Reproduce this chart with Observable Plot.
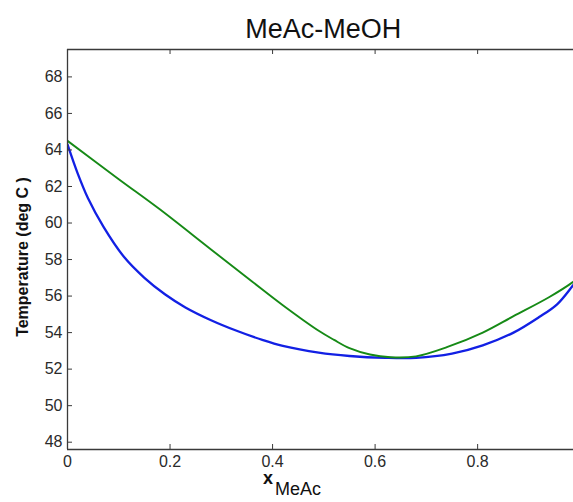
<!DOCTYPE html>
<html>
<head>
<meta charset="utf-8">
<script src="https://cdn.jsdelivr.net/npm/d3@7"></script>
<script src="https://cdn.jsdelivr.net/npm/@observablehq/plot@0.6"></script>
<style>
  html, body { margin: 0; padding: 0; background: #fff; overflow: hidden; }
</style>
</head>
<body>
<div id="chart"></div>
<script>
// ---- data ----
const titleText = "MeAc-MeOH";
const yLabelText = "Temperature (deg C )";
const xLabelMain = "x";
const xLabelSub = "MeAc";

// bubble-point (liquid) curve, blue
const liqX = [0, 0.02, 0.04, 0.07, 0.11, 0.15, 0.19, 0.23, 0.28, 0.33, 0.38, 0.42, 0.49, 0.55, 0.62, 0.68, 0.75, 0.81, 0.87, 0.92, 0.955, 0.985, 1.0];
const liqT = [64.3, 62.7, 61.35, 59.8, 58.15, 57.0, 56.1, 55.38, 54.68, 54.1, 53.6, 53.27, 52.9, 52.72, 52.62, 52.62, 52.85, 53.3, 54.0, 54.85, 55.55, 56.55, 57.1];

// dew-point (vapour) curve, green
const vapX = [0, 0.1, 0.18, 0.28, 0.36, 0.42, 0.49, 0.52, 0.55, 0.59, 0.63, 0.68, 0.74, 0.81, 0.87, 0.94, 0.985, 1.0];
const vapT = [64.5, 62.4, 60.75, 58.55, 56.8, 55.5, 54.1, 53.6, 53.15, 52.8, 52.65, 52.7, 53.2, 54.0, 54.9, 55.95, 56.75, 57.1];

const xTicks = [0, 0.2, 0.4, 0.6, 0.8];
const xTickLabels = ["0", "0.2", "0.4", "0.6", "0.8"];
const yTicks = [48, 50, 52, 54, 56, 58, 60, 62, 64, 66, 68];
const yTickLabels = ["48", "50", "52", "54", "56", "58", "60", "62", "64", "66", "68"];

const xDomain = [0, 0.987];
const yDomain = [47.6, 69.5];

// ---- build tables ----
const liq = liqX.map((x, i) => ({x, T: liqT[i]}));
const vap = vapX.map((x, i) => ({x, T: vapT[i]}));

const axisColor = "#3a3a3a";
const textColor = "#2a2a2a";
const font = "'Liberation Sans', Arial, Helvetica, sans-serif";

const W = 573, H = 502, mT = 49, mB = 53, mL = 67, mR = 0;
const frameH = H - mT - mB, frameW = W - mL - mR, tick = 5;

const chart = Plot.plot({
  width: W,
  height: H,
  marginTop: mT,
  marginBottom: mB,
  marginLeft: mL,
  marginRight: mR,
  style: {fontFamily: font, fontSize: "16px", color: textColor, background: "#fff", overflow: "hidden"},
  x: {domain: xDomain},
  y: {domain: yDomain},
  marks: [
    Plot.line(liq, {x: "x", y: "T", stroke: "#1220e4", strokeWidth: 2.3, curve: "catmull-rom", clip: true}),
    Plot.line(vap, {x: "x", y: "T", stroke: "#168a16", strokeWidth: 1.9, curve: "catmull-rom", clip: true}),
    Plot.ruleY([yDomain[0]], {stroke: axisColor, strokeWidth: 1.3}),
    Plot.ruleY([yDomain[1]], {stroke: axisColor, strokeWidth: 1.3}),
    Plot.ruleX([xDomain[0]], {stroke: axisColor, strokeWidth: 1.3}),
    // inward tick marks
    Plot.tickX(xTicks, {x: d => d, stroke: axisColor, insetTop: frameH - tick}),
    Plot.tickX(xTicks, {x: d => d, stroke: axisColor, insetBottom: frameH - tick}),
    Plot.tickY(yTicks, {y: d => d, stroke: axisColor, insetRight: frameW - tick}),
    // tick labels
    Plot.axisX(xTicks, {anchor: "bottom", tickSize: 0, tickPadding: 6, label: null,
      stroke: null, fill: textColor,
      tickFormat: (d) => xTickLabels[xTicks.indexOf(d)]}),
    Plot.axisY(yTicks, {anchor: "left", tickSize: 0, tickPadding: 5, label: null,
      stroke: null, fill: textColor,
      tickFormat: (d) => yTickLabels[yTicks.indexOf(d)]})
  ]
});

document.getElementById("chart").appendChild(chart);

// ---- title and axis labels as real SVG text ----
const svg = d3.select(chart);
const xs = chart.scale("x");
const cx = (xs.apply(0) + xs.apply(1)) / 2;

svg.append("text")
  .attr("x", cx).attr("y", 38)
  .attr("text-anchor", "middle")
  .attr("font-family", font)
  .attr("font-size", 27)
  .attr("fill", "#111")
  .text(titleText);

svg.append("text")
  .attr("transform", "translate(28,257) rotate(-90)")
  .attr("text-anchor", "middle")
  .attr("font-family", font)
  .attr("font-size", 16)
  .attr("font-weight", "bold")
  .attr("fill", "#111")
  .text(yLabelText);

const xl = svg.append("text")
  .attr("x", 292).attr("y", 484)
  .attr("font-family", font)
  .attr("font-size", 18)
  .attr("fill", "#111");
xl.append("tspan").attr("font-weight", "bold").text(xLabelMain);
xl.append("tspan").attr("dy", 11).attr("dx", 2).text(xLabelSub);
</script>
</body>
</html>
